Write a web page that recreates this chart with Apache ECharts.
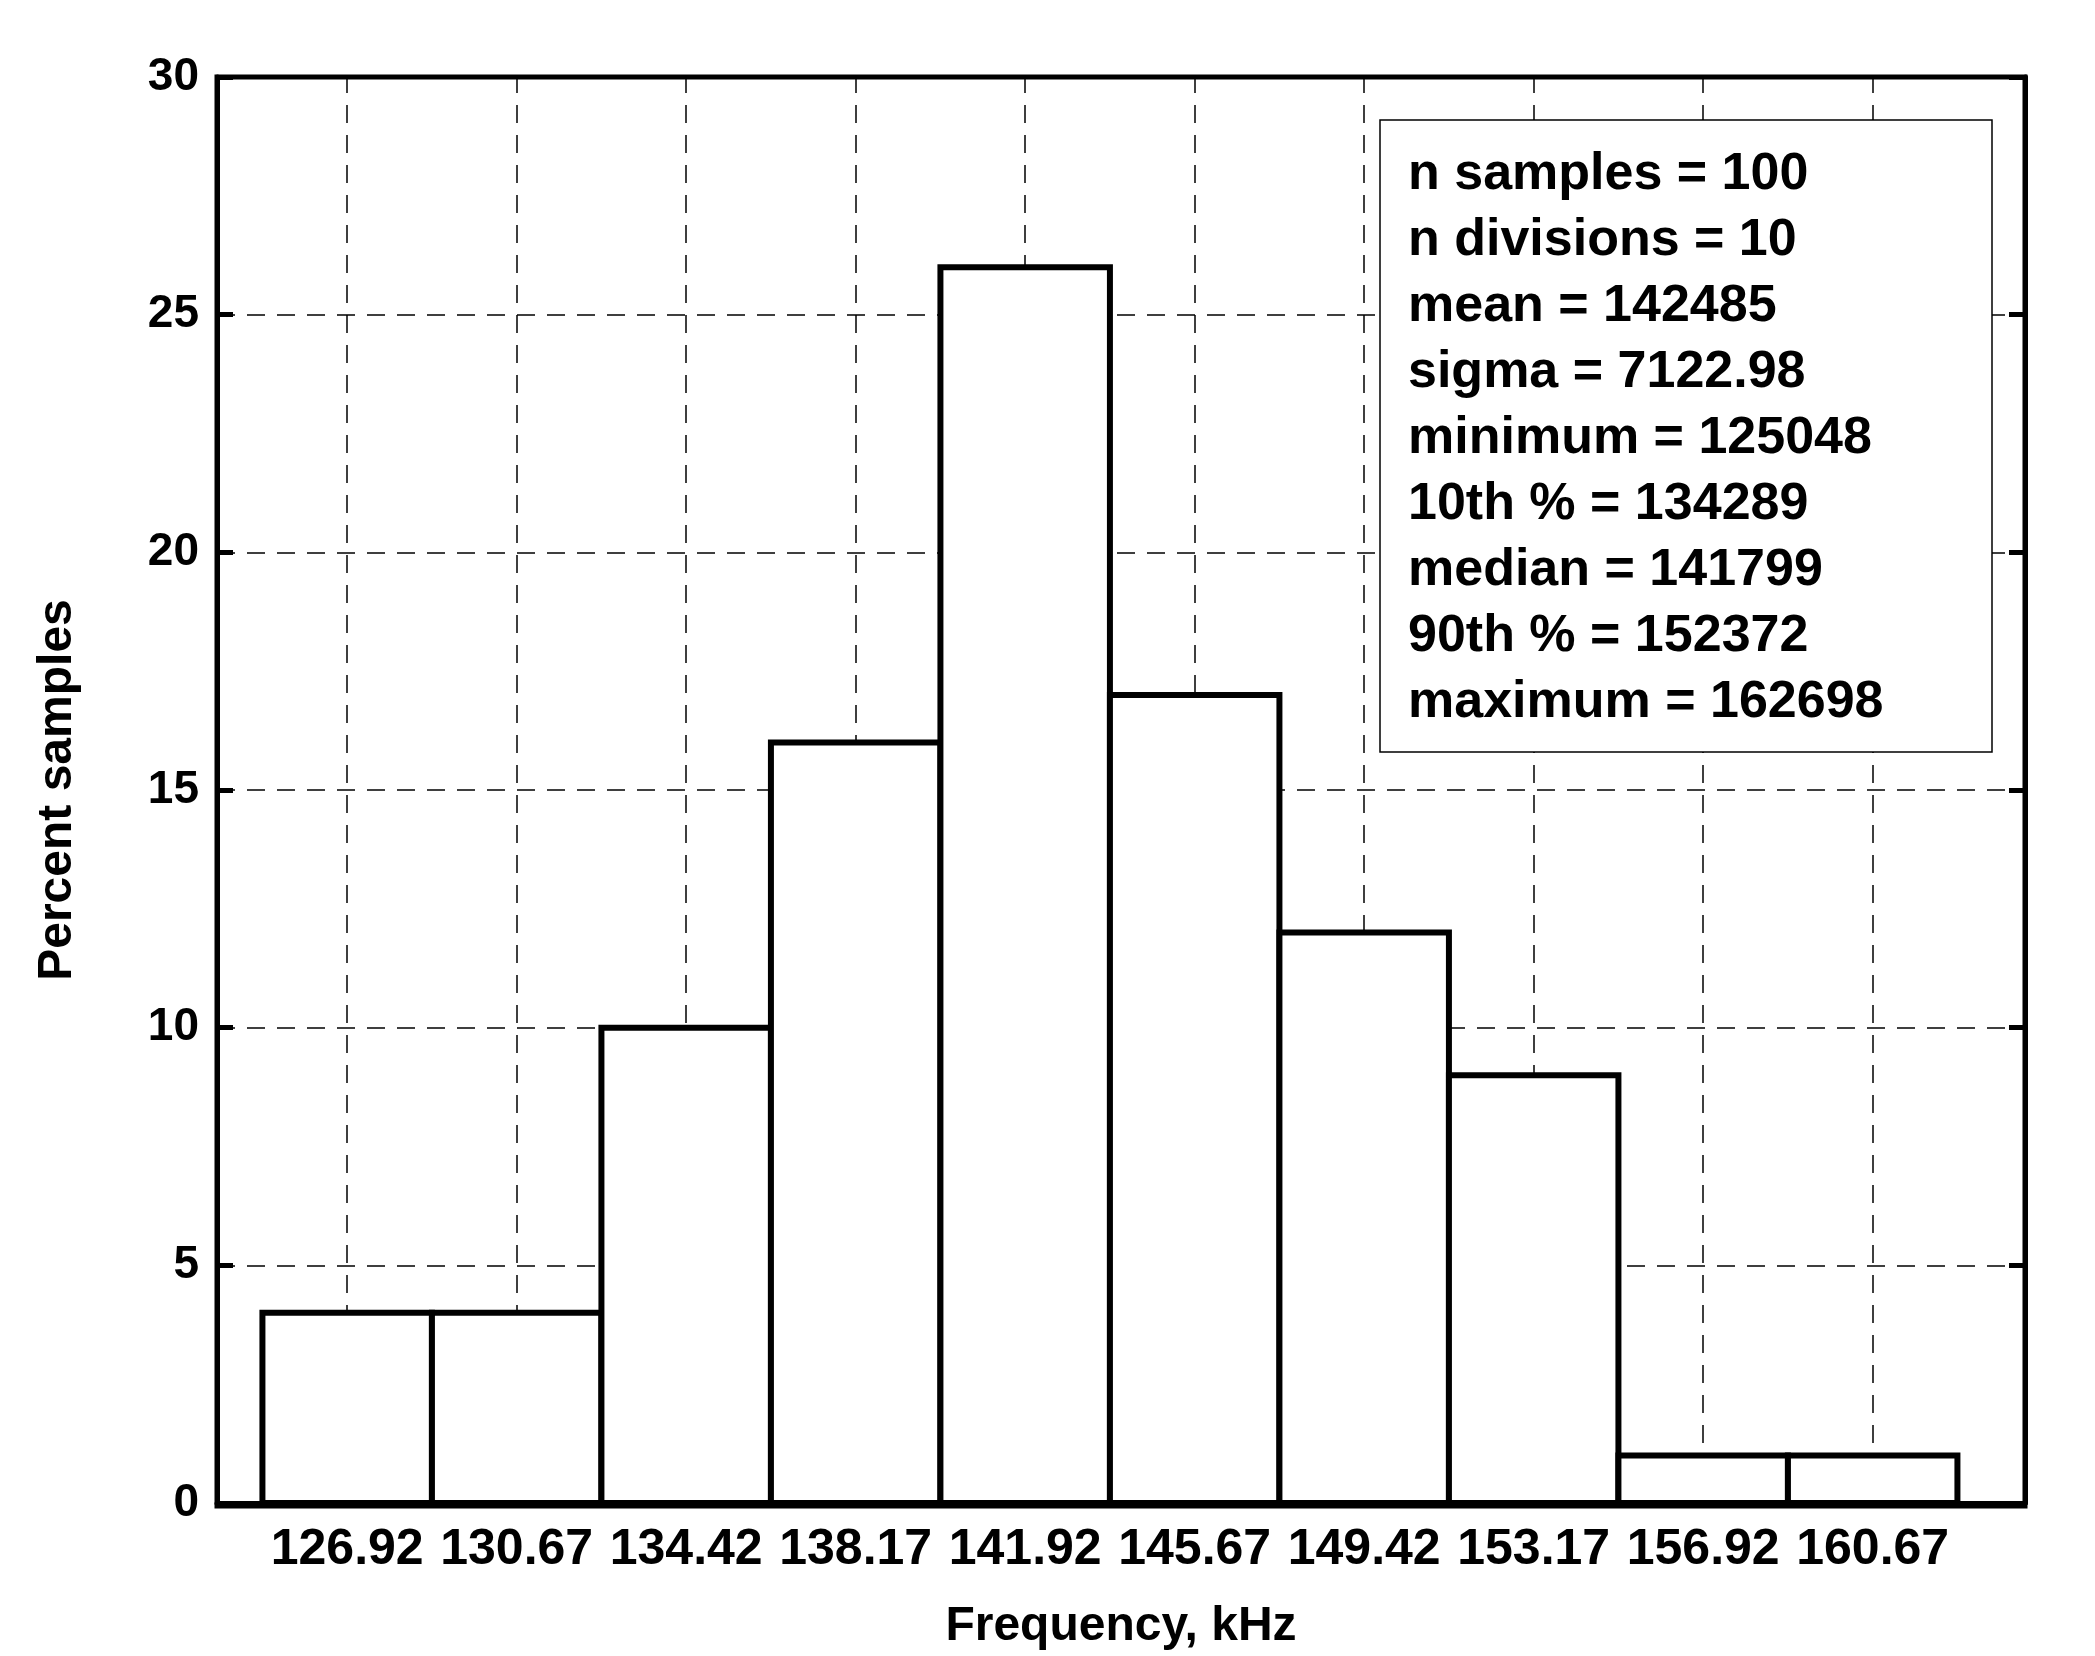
<!DOCTYPE html>
<html><head><meta charset="utf-8">
<script src="https://cdn.jsdelivr.net/npm/echarts@6/dist/echarts.min.js"></script>
<style>html,body{margin:0;background:#fff}#c{width:2095px;height:1656px}</style>
</head><body><div id="c"></div>
<script>
// bin centres (kHz) and percent of samples per bin
var binCentres = [126.92, 130.67, 134.42, 138.17, 141.92, 145.67, 149.42, 153.17, 156.92, 160.67];
var percents = [4, 4, 10, 16, 26, 17, 12, 9, 1, 1];
var binWidth = 3.75;
var statLines = ['n samples = 100', 'n divisions = 10', 'mean = 142485', 'sigma = 7122.98',
  'minimum = 125048', '10th % = 134289', 'median = 141799', '90th % = 152372', 'maximum = 162698'];

var font = 'Liberation Sans, Arial, sans-serif';
var myChart = echarts.init(document.getElementById('c'));

var barData = binCentres.map(function (c, i) { return [c, percents[i]]; });

var option = {
  backgroundColor: '#fff',
  animation: false,
  grid: { left: 217, right: 70, top: 77, bottom: 150 },
  xAxis: {
    type: 'value', min: 124.04, max: 164.04,
    name: 'Frequency, kHz', nameLocation: 'middle', nameGap: 100,
    nameTextStyle: { fontSize: 48, fontWeight: 'bold', color: '#000', fontFamily: font },
    axisLine: { lineStyle: { color: '#000', width: 5 } },
    axisTick: { inside: true, length: 16, customValues: binCentres, lineStyle: { color: '#000', width: 5 } },
    axisLabel: { customValues: binCentres, fontSize: 50, fontWeight: 'bold', color: '#000', fontFamily: font, margin: 22,
      formatter: function (v) { return v.toFixed(2); } },
    splitLine: { show: false }
  },
  yAxis: [{
    type: 'value', min: 0, max: 30, interval: 5,
    name: 'Percent samples', nameLocation: 'middle', nameGap: 135,
    nameTextStyle: { fontSize: 48, fontWeight: 'bold', color: '#000', fontFamily: font },
    axisLine: { show: true, lineStyle: { color: '#000', width: 5 } },
    axisTick: { inside: true, length: 16, lineStyle: { color: '#000', width: 5 } },
    axisLabel: { fontSize: 46, fontWeight: 'bold', color: '#000', fontFamily: font, margin: 18 },
    splitLine: { show: true, lineStyle: { color: '#000', width: 1.5, type: [18, 12] } }
  }, {
    type: 'value', min: 0, max: 30, interval: 5, position: 'right',
    axisLine: { show: true, lineStyle: { color: '#000', width: 5 } },
    axisTick: { inside: true, length: 16, lineStyle: { color: '#000', width: 5 } },
    axisLabel: { show: false }, splitLine: { show: false }
  }],
  graphic: [
    { type: 'rect', shape: { x: 217, y: 77, width: 1808, height: 1429 }, style: { fill: 'none', stroke: '#000', lineWidth: 5 }, z: 10 },
    { type: 'rect', shape: { x: 1380, y: 120, width: 612, height: 632 }, style: { fill: '#fff', stroke: '#000', lineWidth: 1.5 }, z: 20 },
    { type: 'text', left: 1408, top: 142, z: 21,
      style: { text: statLines.join('\n'), fontSize: 52, fontWeight: 'bold', lineHeight: 66, fill: '#000', fontFamily: font } }
  ],
  series: [{
    type: 'custom',
    data: barData,
    z: 5,
    renderItem: function (params, api) {
      var c = api.value(0), v = api.value(1);
      var p0 = api.coord([c - binWidth / 2, v]);
      var p1 = api.coord([c + binWidth / 2, 0]);
      return { type: 'rect', shape: { x: p0[0], y: p0[1], width: p1[0] - p0[0], height: p1[1] - p0[1] },
        style: { fill: '#fff', stroke: '#000', lineWidth: 6 } };
    },
    markLine: {
      silent: true, symbol: 'none', z: 1, label: { show: false },
      lineStyle: { color: '#000', width: 1.5, type: [18, 12] },
      data: binCentres.map(function (c) { return { xAxis: c }; })
    }
  }]
};
myChart.setOption(option);
</script></body></html>
